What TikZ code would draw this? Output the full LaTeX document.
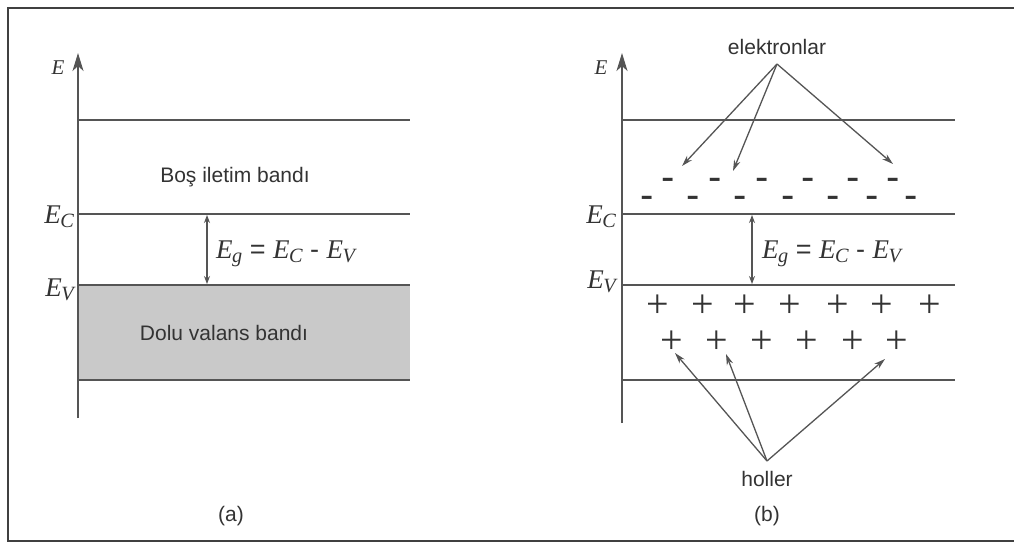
\documentclass[tikz,border=0pt]{standalone}
\usepackage{fontspec}
\setmainfont{Liberation Sans}
\newfontfamily\tms{Liberation Serif}
\usetikzlibrary{arrows.meta}
\definecolor{ln}{HTML}{555555}
\definecolor{tx}{HTML}{333333}
\definecolor{band}{HTML}{C9C9C9}
\newcommand{\Esub}[1]{{\tms\itshape E\kern-0.5pt\raisebox{-0.14em}{\scalebox{0.75}{#1}}}}
\tikzset{
  lvl/.style={draw=ln, line width=1.6pt},
  axis/.style={draw=ln, line width=1.6pt, -{Stealth[length=18pt,width=11pt,inset=5pt]}},
  gap/.style={draw=ln, line width=1.1pt, {Stealth[length=8pt,width=6pt]}-{Stealth[length=8pt,width=6pt]}},
  ptr/.style={draw=ln, line width=1.3pt, -{Stealth[length=11pt,width=6.5pt]}},
  lbl/.style={text=tx, inner sep=0pt, font=\fontsize{21}{25}\selectfont},
  mlbl/.style={text=tx, inner sep=0pt, font=\fontsize{27}{31}\selectfont},
  elab/.style={text=tx, inner sep=0pt, font=\fontsize{21}{24}\selectfont\tms\itshape},
  minus/.style={text=tx, inner sep=0pt, anchor=base, yshift=-10pt, font=\fontsize{40}{44}\selectfont},
  plus/.style={text=tx, inner sep=0pt, anchor=base, yshift=-14pt, text height=0.3em, text depth=0pt, font=\fontsize{40}{44}\selectfont\tms},
}
\begin{document}
\begin{tikzpicture}[x=1pt,y=-1pt]
\useasboundingbox (0,0) rectangle (1014,543);
\fill[white] (0,0) rectangle (1014,543);
% frame
\draw[draw=black!75, line width=2pt] (1014,8) -- (8,8) -- (8,541) -- (1014,541);

% ---------- panel (a)
\fill[band] (78,285) rectangle (410,380);
\draw[lvl] (78,120) -- (410,120);
\draw[lvl] (78,214) -- (410,214);
\draw[lvl] (78,285) -- (410,285);
\draw[lvl] (78,380) -- (410,380);
\coordinate (a0) at (78,418);
\coordinate (a1) at (78,53);
\draw[axis] (a0) -- (a1);
\node[elab] (aE) at (58,68) {E};
\node[mlbl, anchor=east] (aEc) at (74,217) {\Esub{\textit{C}}};
\node[mlbl, anchor=east] (aEv) at (74,290) {\Esub{\textit{V}}};
\node[lbl] (abos) at (235,177) {Boş iletim bandı};
\node[lbl] (adolu) at (224,333) {Dolu valans bandı};
\coordinate (ag1) at (207,215);
\coordinate (ag2) at (207,284);
\draw[gap] (ag1) -- (ag2);
\node[mlbl, anchor=west] (aEg) at (216,254) {\Esub{\textit{g}} = \Esub{\textit{C}} - \Esub{\textit{V}}};
\node[lbl] (acap) at (231,516) {(a)};

% ---------- panel (b)
\draw[lvl] (622,120) -- (955,120);
\draw[lvl] (622,214) -- (955,214);
\draw[lvl] (622,285) -- (955,285);
\draw[lvl] (622,380) -- (955,380);
\coordinate (b0) at (622,423);
\coordinate (b1) at (622,53);
\draw[axis] (b0) -- (b1);
\node[elab] (bE) at (601,68) {E};
\node[mlbl, anchor=east] (bEc) at (616,217) {\Esub{\textit{C}}};
\node[mlbl, anchor=east] (bEv) at (616,282) {\Esub{\textit{V}}};
\coordinate (bg1) at (752,215);
\coordinate (bg2) at (752,284);
\draw[gap] (bg1) -- (bg2);
\node[mlbl, anchor=west] (bEg) at (762,254) {\Esub{\textit{g}} = \Esub{\textit{C}} - \Esub{\textit{V}}};

% electrons
\foreach \x [count=\i] in {668,715,762,808,853,893}
  \node[minus] (m1\i) at (\x,180) {-};
\foreach \x [count=\i] in {647,693,740,788,833,872,911}
  \node[minus] (m2\i) at (\x,198) {-};
% holes
\foreach \x [count=\i] in {658,703,745,790,838,882,930}
  \node[plus] (p1\i) at (\x,303) {+};
\foreach \x [count=\i] in {672,717,762,807,853,897}
  \node[plus] (p2\i) at (\x,339) {+};

\node[lbl] (elek) at (777,47) {elektronlar};
\coordinate (e0) at (777,64);
\coordinate (e1) at (682,166);
\coordinate (e2) at (733,171);
\coordinate (e3) at (893,164);
\draw[ptr] (e0) -- (e1);
\draw[ptr] (e0) -- (e2);
\draw[ptr] (e0) -- (e3);

\node[lbl] (hol) at (767,479) {holler};
\coordinate (h0) at (767,461);
\coordinate (h1) at (675,353);
\coordinate (h2) at (726,354);
\coordinate (h3) at (885,359);
\draw[ptr] (h0) -- (h1);
\draw[ptr] (h0) -- (h2);
\draw[ptr] (h0) -- (h3);

\node[lbl] (bcap) at (767,516) {(b)};
\end{tikzpicture}
\end{document}
